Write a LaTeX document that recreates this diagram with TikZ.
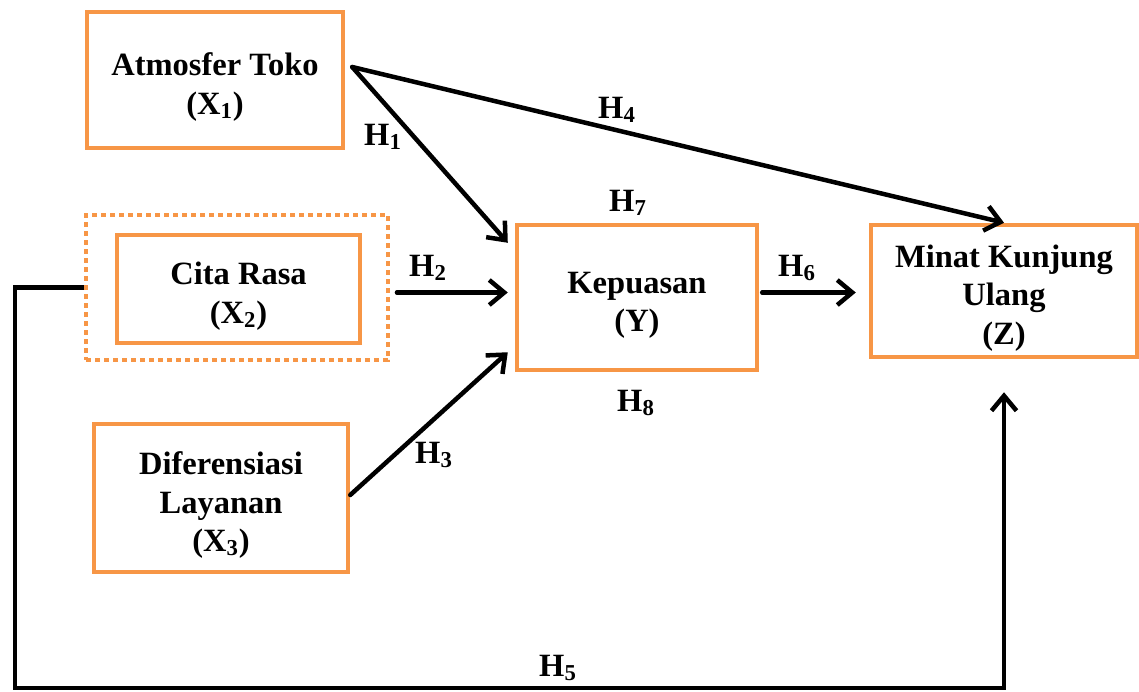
\documentclass[tikz,border=0pt]{standalone}
\usepackage{fontspec}
\setmainfont{Liberation Serif}
\usepackage{tikz}
\usetikzlibrary{arrows.meta,positioning}
\definecolor{varorange}{HTML}{F79646}
\newcommand{\toppad}{\rule{0pt}{21pt}}

\begin{document}
\begin{tikzpicture}[
  x=0.02cm,y=-0.02cm,
  every node/.style={font=\fontsize{18.5}{21.8}\selectfont\bfseries},
  varbox/.style={draw=varorange,line width=0.09cm,align=center,inner sep=0mm},
  dotframe/.style={draw=varorange,line width=0.08cm,dash pattern=on 0.1cm off 0.08cm},
  link/.style={line width=0.09cm,line cap=round,-{Straight Barb[length=0.3cm,width=0.5cm]}},
  hyp/.style={inner sep=0mm}
]
\useasboundingbox (0,0) rectangle (1139,691);

% variables
\node[varbox,minimum width=5.12cm,minimum height=2.72cm] (atmosfer) at (215,80)
  {\toppad Atmosfer Toko\\(X\textsubscript{1})};
\node[varbox,minimum width=4.86cm,minimum height=2.16cm] (citarasa) at (238.5,289)
  {\toppad Cita Rasa\\(X\textsubscript{2})};
\node[dotframe,minimum width=6.04cm,minimum height=2.9cm] (citaframe) at (237,287.5) {};
\node[varbox,minimum width=5.08cm,minimum height=2.96cm] (diferensiasi) at (221,498)
  {\toppad Diferensiasi\\Layanan\\(X\textsubscript{3})};
\node[varbox,minimum width=4.8cm,minimum height=2.9cm] (kepuasan) at (637,297.5)
  {\toppad Kepuasan\\(Y)};
\node[varbox,minimum width=5.32cm,minimum height=2.64cm] (minat) at (1004,291)
  {\toppad Minat Kunjung\\Ulang\\(Z)};

% paths
\draw[link] ([xshift=0.14cm,yshift=0.26cm]atmosfer.east) coordinate (x1out)
  -- ([xshift=-0.14cm,yshift=-0.4cm]kepuasan.north west);
\draw[link] (x1out) -- (minat.north);
\draw[link] ([xshift=0.14cm,yshift=-0.1cm]citaframe.east) coordinate (x2out)
  -- ([xshift=-0.14cm]x2out -| kepuasan.west);
\draw[link] ([yshift=0.06cm]diferensiasi.east)
  -- ([xshift=-0.14cm,yshift=0.4cm]kepuasan.south west);
\draw[link] ([xshift=0.06cm,yshift=0.1cm]kepuasan.east) coordinate (yout)
  -- ([xshift=-0.26cm]yout -| minat.west);
\coordinate (loopl) at (15,688);
\draw[link,line cap=butt] (citaframe.west) -- (citaframe.west -| loopl) -- (loopl)
  -- (loopl -| minat.south) -- ([yshift=-0.66cm]minat.south);

% hypotheses
\node[hyp] (h1) at (383,137) {H\textsubscript{1}};
\node[hyp] (h2) at (428,268) {H\textsubscript{2}};
\node[hyp] (h3) at (434,455) {H\textsubscript{3}};
\node[hyp] (h4) at (617,110) {H\textsubscript{4}};
\node[hyp] (h5) at (558,668) {H\textsubscript{5}};
\node[hyp] (h6) at (797,268) {H\textsubscript{6}};
\node[hyp] (h7) at (628,203) {H\textsubscript{7}};
\node[hyp] (h8) at (636,403) {H\textsubscript{8}};

\end{tikzpicture}
\end{document}
